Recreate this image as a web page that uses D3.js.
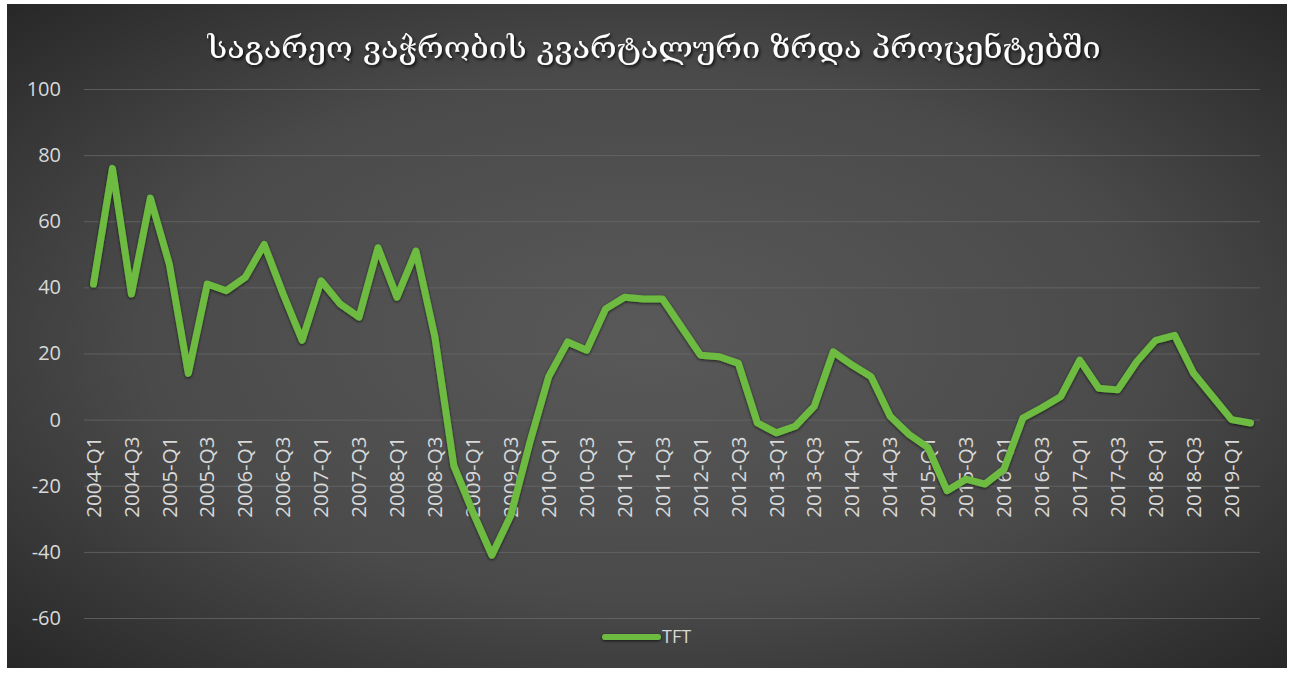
<!DOCTYPE html>
<html><head><meta charset="utf-8">
<script src="https://cdn.jsdelivr.net/npm/d3@7/dist/d3.min.js"></script>
<style>html,body{margin:0;padding:0;background:#fff;overflow:hidden;}</style>
</head><body>
<svg id="chart" width="1294" height="673"></svg>
<script>
const quarters = [
"2004-Q1","2004-Q2","2004-Q3","2004-Q4","2005-Q1","2005-Q2","2005-Q3","2005-Q4",
"2006-Q1","2006-Q2","2006-Q3","2006-Q4","2007-Q1","2007-Q2","2007-Q3","2007-Q4",
"2008-Q1","2008-Q2","2008-Q3","2008-Q4","2009-Q1","2009-Q2","2009-Q3","2009-Q4",
"2010-Q1","2010-Q2","2010-Q3","2010-Q4","2011-Q1","2011-Q2","2011-Q3","2011-Q4",
"2012-Q1","2012-Q2","2012-Q3","2012-Q4","2013-Q1","2013-Q2","2013-Q3","2013-Q4",
"2014-Q1","2014-Q2","2014-Q3","2014-Q4","2015-Q1","2015-Q2","2015-Q3","2015-Q4",
"2016-Q1","2016-Q2","2016-Q3","2016-Q4","2017-Q1","2017-Q2","2017-Q3","2017-Q4",
"2018-Q1","2018-Q2","2018-Q3","2018-Q4","2019-Q1","2019-Q2"];
const tft = [
41, 76, 38, 67, 47, 14, 41, 39,
43, 53, 38, 24, 42, 35, 31, 52,
37, 51, 25, -14, -28, -41, -29, -7,
13, 23.5, 21, 33.5, 37, 36.5, 36.5, 28,
19.5, 19, 17, -1, -4, -2, 4, 20.5,
16.5, 13, 1, -4.5, -8.5, -21.5, -18, -19.5,
-15, 0.5, 3.6, 7, 18, 9.5, 9, 17.5,
24, 25.5, 14, 7, 0, -1];
const yTicks = [-60, -40, -20, 0, 20, 40, 60, 80, 100];
const xTickLabels = quarters.filter((q, i) => i % 2 === 0);
const titleText = "საგარეო ვაჭრობის კვარტალური ზრდა პროცენტებში";
const seriesName = "TFT";

const svg = d3.select("#chart");
const defs = svg.append("defs");
const grad = defs.append("radialGradient").attr("id", "bg")
  .attr("cx", "50%").attr("cy", "50%").attr("r", "72%");
grad.append("stop").attr("offset", "0%").attr("stop-color", "#595959");
grad.append("stop").attr("offset", "55%").attr("stop-color", "#4a4a4a");
grad.append("stop").attr("offset", "100%").attr("stop-color", "#262626");

const sh = defs.append("filter").attr("id", "lineShadow")
  .attr("filterUnits", "userSpaceOnUse")
  .attr("x", 0).attr("y", 0).attr("width", 1294).attr("height", 673);
sh.append("feDropShadow").attr("dx", 0).attr("dy", 1).attr("stdDeviation", 1.6)
  .attr("flood-color", "#000").attr("flood-opacity", 0.7);
const tsh = defs.append("filter").attr("id", "textShadow")
  .attr("x", "-5%").attr("y", "-20%").attr("width", "110%").attr("height", "140%");
tsh.append("feDropShadow").attr("dx", 1.5).attr("dy", 2).attr("stdDeviation", 1.5)
  .attr("flood-color", "#000").attr("flood-opacity", 0.8);

svg.append("rect").attr("x", 7).attr("y", 4).attr("width", 1280).attr("height", 664)
  .attr("fill", "url(#bg)");

const x = d3.scaleBand().domain(quarters).range([84, 1260]);
const cx = q => x(q) + x.bandwidth() / 2;
const y = d3.scaleLinear().domain([-60, 100]).range([618, 89]);

// gridlines + y labels
const yAxis = svg.append("g").attr("transform", "translate(84,0)")
  .call(d3.axisLeft(y).tickValues(yTicks).tickSize(-1176).tickPadding(23).tickFormat(d => String(d)));
yAxis.select(".domain").remove();
yAxis.selectAll(".tick line").attr("stroke", "#6a6a6a").attr("stroke-width", 1).attr("opacity", 0.75);
yAxis.selectAll(".tick text").attr("fill", "#d9d9d9")
  .style("font-family", "'Open Sans', sans-serif").style("font-size", "20px");

// x labels
const xAxis = svg.append("g").attr("transform", `translate(0,${y(0)})`)
  .call(d3.axisBottom(x).tickValues(xTickLabels).tickSize(0));
xAxis.select(".domain").remove();
xAxis.selectAll(".tick text")
  .attr("transform", "rotate(-90)")
  .attr("x", -17).attr("y", 0).attr("dy", "0.35em")
  .attr("text-anchor", "end")
  .attr("fill", "#d9d9d9")
  .style("font-family", "'Open Sans', sans-serif").style("font-size", "20.5px");

// line
const line = d3.line().x((d, i) => cx(quarters[i])).y(d => y(d));
svg.append("path").datum(tft)
  .attr("d", line)
  .attr("fill", "none")
  .attr("stroke", "#6dbb41")
  .attr("stroke-width", 7)
  .attr("stroke-linejoin", "round")
  .attr("stroke-linecap", "round")
  .attr("filter", "url(#lineShadow)");

// title
svg.append("text").attr("x", 654).attr("y", 58)
  .attr("text-anchor", "middle")
  .attr("fill", "#ffffff")
  .attr("filter", "url(#textShadow)")
  .attr("textLength", 893).attr("lengthAdjust", "spacingAndGlyphs")
  .style("font-family", "'DejaVu Serif', 'DejaVu Sans', serif")
  .style("font-size", "30px")
  .text(titleText);

// legend
const lg = svg.append("g");
lg.append("line").attr("x1", 605).attr("x2", 658).attr("y1", 637).attr("y2", 637)
  .attr("stroke", "#6dbb41").attr("stroke-width", 6).attr("stroke-linecap", "round")
  .attr("filter", "url(#lineShadow)");
lg.append("text").attr("x", 662).attr("y", 637).attr("dy", "0.35em")
  .attr("fill", "#d9d9d9")
  .style("font-family", "'Open Sans', sans-serif").style("font-size", "18px")
  .text(seriesName);
</script>
</body></html>
